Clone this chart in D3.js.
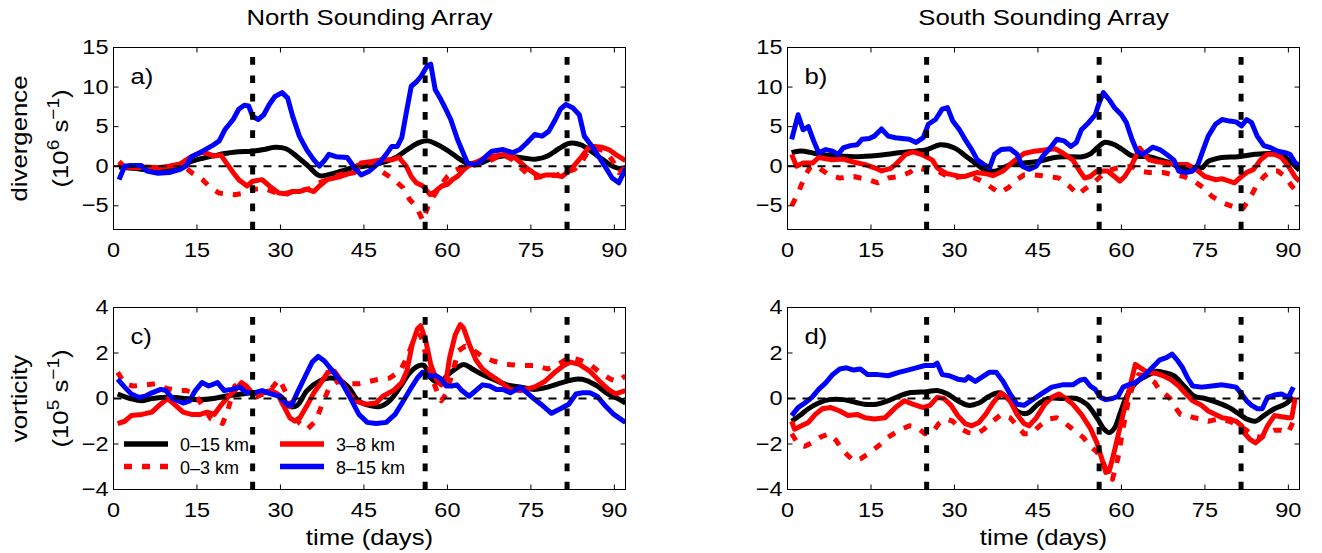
<!DOCTYPE html>
<html><head><meta charset="utf-8">
<script src="https://cdn.jsdelivr.net/npm/d3@7"></script>
<style>body{margin:0;background:#fff}svg{display:block}</style>
</head><body><svg id="c" width="1322" height="553"></svg>
<script>
const xTicks=[0,15,30,45,60,75,90];
const divTicks=[-5,0,5,10,15];
const vortTicks=[-4,-2,0,2,4];
const eventDays=[25,56,81.5];
const columnTitles=["North Sounding Array","South Sounding Array"];
const panelLabels=["a)","b)","c)","d)"];
const legendLabels=["0\u201315 km","0\u20133 km","3\u20138 km","8\u201315 km"];

// ---- divergence, North (10^6 s^-1) ----
const divNorth_0_15=[[1,-0.1],[4,-0.3],[7,-0.5],[10,-0.4],[12,-0.1],[14,0.6],[16,1.0],[18,1.3],[20,1.6],[22,1.8],[25,1.9],[27,2.1],[29,2.4],[31,2.2],[33,1.2],[35,0],[37,-1.2],[39,-1.0],[41,-0.6],[43,-0.2],[45,0],[47,0.2],[49,0.6],[51,1.2],[53,2.2],[55,3.0],[56.5,3.2],[58,2.8],[60,2.0],[62,1.0],[64,0.2],[66,0.4],[68,1.0],[70,1.3],[72,1.2],[74,1.0],[76,0.9],[78,1.3],[80,2.2],[82,2.9],[84,2.7],[86,1.8],[88,0.8],[90,-0.1],[92,-0.4]];
const divNorth_0_3=[[1,0.6],[2,-0.1],[4,-0.2],[6,-0.1],[8,-0.2],[10,0],[12,0.2],[13,-0.2],[14,-0.8],[16,-1.7],[17.4,-2.7],[19,-3.4],[21.7,-3.6],[23.6,-3.4],[25.4,-2.9],[27,-2.8],[29,-3.3],[31,-3.4],[33,-3.1],[35,-2.9],[37,-2.1],[39.6,-1.3],[42,-0.8],[44.5,0.4],[47,0.2],[48,-0.6],[50,-1.5],[52,-2.7],[53.2,-4.2],[54.4,-5.1],[55.6,-6.9],[56.5,-5.1],[57.5,-3.8],[58.7,-2.5],[60,-1.3],[61.2,-0.6],[63,0],[65.5,0.2],[68,0.8],[69.8,1.5],[71.7,0.8],[73.5,-0.4],[75,-1.5],[77.3,-1.3],[79.7,-1.1],[81.2,-0.8],[82.8,-0.4],[84,0.4],[85.3,1.9],[86.5,2.3],[88.3,1.9],[89.6,0.8],[90.8,-0.8],[92,-0.2]];
const divNorth_3_8=[[1,0.4],[2,-0.1],[4,-0.2],[6,-0.1],[8,-0.2],[10,0],[12,0.3],[14,1.2],[16,1.8],[18,1.3],[19.3,1.4],[20.5,0.2],[21.5,-0.8],[22.5,-1.7],[24,-2.5],[25,-1.9],[26.7,-1.7],[28,-2.5],[29.7,-3.4],[31.3,-3.5],[32,-3.2],[33.4,-3.2],[34.7,-2.9],[36,-3.2],[37,-2.5],[38.4,-1.7],[39.6,-1.5],[40.8,-1.3],[42,-1.0],[43.3,-0.8],[44.5,0.4],[46.4,0.6],[48,0.8],[50,0.8],[51.3,1.1],[52.6,0],[53.5,-1.3],[54.4,-2.1],[55.6,-2.5],[56.9,-3.6],[57.8,-3.2],[59,-2.5],[60,-2.3],[60.9,-1.7],[61.8,-1.3],[63,-0.4],[64.3,0.3],[65.5,0.6],[66.8,1.1],[68.6,1.3],[70.5,1.5],[71.7,1.3],[72.9,0.6],[74.2,-0.2],[75.4,-0.8],[76.6,-1.3],[77.8,-1.1],[79,-1.1],[80.6,-1.3],[81.5,-0.8],[82.8,0.1],[84,1.1],[85.3,2.3],[86.5,2.5],[87.7,2.4],[89,2.1],[90.2,1.5],[92,0.7]];
const divNorth_8_15=[[1,-1.7],[2,0],[3,0.1],[5,0.1],[6,-0.6],[8,-0.9],[10,-0.8],[12,-0.4],[13,0],[14,1.2],[16,1.9],[18,2.7],[19,3.2],[20,4.6],[21.5,5.9],[22.5,7.2],[23.5,7.7],[24.3,7.6],[25,6.3],[26,5.9],[27,6.5],[28,7.8],[29,8.8],[30.3,9.3],[31.3,8.6],[32.2,6.3],[33.4,3.8],[34.7,2.1],[36,0.8],[37,0],[38,0.8],[38.7,1.5],[40,1.2],[42,1.1],[43.3,-0.2],[44.5,-1.1],[46,-0.6],[47,0],[48,0.6],[49,1.5],[50,2.5],[51,2.5],[51.8,3.6],[52.6,6.7],[53.5,10.1],[54.5,10.7],[55.3,11.4],[56.3,12.6],[57,12.9],[57.8,9.7],[58.7,8.6],[59.7,7.2],[60.6,5.9],[61.8,3.4],[62.7,1.9],[63.6,0.4],[65,0.2],[66,0.6],[67,1.3],[68,1.9],[70,2.1],[71.7,1.7],[73,2.1],[74.2,2.9],[75.7,4.0],[77,3.8],[78.2,4.4],[79.4,5.9],[80.3,7.2],[81.3,7.8],[82.5,7.4],[83.7,6.5],[84.6,3.8],[86,2.5],[87.1,1.3],[88.3,0],[89.6,-1.5],[90.8,-2.1],[92,-0.3]];

// ---- divergence, South ----
const divSouth_0_15=[[0.75,1.7],[1.9,1.9],[3,1.9],[5,1.6],[7,1.4],[9.4,1.3],[12,1.2],[15,1.3],[18,1.5],[20,1.7],[23,1.9],[25,2.1],[27.5,2.7],[30,2.3],[32,1.3],[33.5,0.5],[35.6,-0.5],[37.5,-0.6],[40,0.2],[42.5,0.4],[45,0.6],[48,1.1],[50,1.2],[53,1.2],[54.5,1.6],[55.6,2.3],[56.9,3.0],[58.5,2.8],[60,2.2],[62,1.3],[65,1.2],[67,0.8],[68.5,0.5],[70.6,-0.2],[73,-0.3],[74.5,-0.2],[75.6,0.6],[78,1.1],[81,1.2],[84,1.5],[87,1.6],[89,1.3],[90.5,0.5],[92,-0.5]];
const divSouth_0_3=[[0.75,-5.0],[1.9,-3.4],[3.1,-1.3],[4,-0.2],[5,0.1],[6.2,-0.5],[7.5,-1.1],[9.4,-1.5],[11.9,-1.3],[14.4,-1.7],[16.25,-2.1],[18.1,-1.5],[20,-1.3],[21.9,-0.8],[23.1,-0.2],[24.4,-0.4],[26.9,-0.6],[28.5,-1.2],[30.5,-1.4],[32.5,-1.2],[34.4,-1.7],[36.25,-2.5],[38.1,-3.4],[39.7,-2.7],[41.25,-1.7],[42.5,-1.1],[44.4,-1.1],[46.9,-1.3],[48.75,-1.5],[50.6,-2.5],[52.2,-3.6],[53.4,-2.9],[55,-2.1],[56.25,-1.3],[57.5,-0.6],[59.4,-0.2],[61.9,0],[63.1,-0.6],[65,-0.8],[67.5,-0.8],[69.4,-1.1],[71.25,-1.3],[73.1,-1.9],[74.7,-2.7],[76.25,-3.8],[78.1,-4.6],[80,-5.1],[80.9,-5.5],[81.9,-5.3],[83.1,-4.0],[84.1,-2.7],[85.6,-1.3],[86.9,-0.6],[88.1,-0.6],[89.4,-1.3],[90.6,-2.5],[92,-3.6]];
const divSouth_3_8=[[0.75,1.5],[1.6,0],[2.8,0.4],[4.5,0.4],[5.6,1.1],[8,0.8],[10,0.9],[12,0.5],[14,0.2],[16,-0.3],[16.9,-0.6],[18.5,-0.3],[19.4,0.2],[21.25,1.5],[22.5,1.8],[24,1.5],[26,0.8],[26.9,-0.2],[28.5,-0.9],[29.7,-1.1],[31,-1.3],[31.9,-1.3],[34,-0.8],[36,-1.0],[36.9,-1.2],[38.75,-0.6],[40.6,0.6],[42.5,1.6],[44.4,1.9],[46.9,2.1],[48.1,2.2],[49.4,1.7],[51.25,0.8],[52.5,-0.6],[53.4,-1.5],[54.4,-1.3],[55.6,-0.6],[57.5,-0.6],[58.75,-1.3],[59.7,-1.9],[60.6,-1.3],[61.6,-0.2],[62.5,1.1],[63.3,2.3],[64.1,1.5],[65,0.8],[66.3,0.6],[68.1,0.4],[70,0.2],[71.9,0.2],[73.4,-0.4],[75,-1.3],[76.9,-1.7],[78.1,-1.6],[79.4,-1.9],[80.3,-2.1],[81.25,-1.5],[82.5,-0.8],[83.75,-0.4],[85,0.8],[86.25,1.5],[87.5,1.5],[88.75,1.1],[90,0],[91.25,-1.4],[92,-1.9]];
const divSouth_8_15=[[0.75,3.4],[1.9,6.5],[2.8,4.6],[3.75,5.0],[4.7,3.2],[5.6,1.7],[6.9,2.1],[8.1,1.9],[9.1,1.5],[10,2.3],[11.3,2.6],[12.5,2.7],[13.4,3.4],[14.7,3.5],[15.6,3.8],[16.9,4.7],[18.1,3.8],[19.4,3.6],[20.6,3.5],[21.9,3.4],[23.1,3.0],[24.4,3.6],[25.3,5.3],[26.6,5.9],[27.8,7.2],[28.75,7.4],[29.7,5.7],[30.9,4.6],[31.9,3.4],[33.1,2.1],[34.1,0.8],[35.3,0.2],[36.3,-0.2],[37.2,1.5],[38.4,2.1],[40,2.2],[41.25,1.5],[42.2,0],[43.4,-0.4],[44.7,0],[45.9,1.3],[47.2,2.3],[48.4,3.4],[49.7,3.2],[50.9,2.5],[51.9,3.0],[52.8,4.6],[54.1,5.5],[55.3,6.5],[55.9,7.8],[56.75,9.3],[57.8,8.4],[58.75,7.4],[60,6.5],[60.9,5.5],[61.9,3.4],[62.8,1.9],[63.75,1.5],[64.7,1.9],[65.6,2.4],[66.9,2.1],[68.1,1.5],[69.4,0.8],[70.3,-0.6],[71.6,-0.8],[72.8,-0.6],[73.75,0.2],[74.7,2.1],[75.6,3.8],[76.9,5.3],[78.1,5.9],[79.4,5.7],[80.6,5.6],[81.6,5.1],[82.5,5.9],[83.4,5.5],[84.4,3.8],[85.6,2.6],[86.9,2.3],[88.1,1.9],[89.4,1.7],[90.3,1.5],[91.25,0.4],[92,0.1]];

// ---- vorticity, North (10^5 s^-1) ----
const vortNorth_0_15=[[0.75,0.2],[3,0],[5,-0.1],[7,0],[10,0.05],[13,0],[15,-0.05],[18,0],[20,0.1],[23,0.2],[25,0.25],[28,0.25],[30,0.1],[31.7,-0.35],[33,-0.3],[34.8,0.35],[37.3,0.8],[38.8,0.9],[40.3,0.85],[42.2,0.5],[44,-0.1],[45.9,-0.3],[47.8,-0.35],[49.6,-0.1],[51.5,0.5],[53.3,1.15],[54.9,1.45],[55.8,1.45],[57,0.9],[58.6,0.7],[60.1,1.05],[61.7,1.35],[62.9,1.5],[64.5,1.3],[66.3,1.05],[68.2,0.85],[70.7,0.6],[73.1,0.5],[75.6,0.4],[78,0.5],[80.6,0.7],[83.1,0.85],[84.9,0.8],[86.9,0.55],[88.8,0.2],[90.6,0],[92,-0.2]];
const vortNorth_0_3=[[0.75,1.15],[2,0.65],[3.5,0.55],[5.7,0.6],[7.5,0.65],[9.4,0.45],[11.3,0.35],[13.1,0.35],[14.7,0.2],[15.9,-0.3],[17.5,-0.9],[18.7,-1.0],[19.6,-1.1],[20.5,-0.55],[21.8,0.55],[23,0.75],[24.2,0.25],[25.5,0.05],[27.3,0.25],[28.6,0.5],[29.8,0.85],[31.1,0.2],[32.3,-0.7],[33.5,-1.1],[34.8,-1.35],[36.3,-1.0],[37.5,-0.25],[38.8,0.5],[40.3,0.75],[42.2,0.65],[44.1,0.65],[45.9,0.75],[47.8,0.85],[49.6,0.9],[51.5,1.2],[52.7,1.8],[54,2.6],[55.2,2.8],[56.4,1.65],[57.3,0.85],[58.3,0.2],[58.9,-0.1],[59.8,0.2],[60.8,1.05],[62,2.1],[63.2,2.3],[64.5,2.15],[66.3,1.85],[68.2,1.65],[70.7,1.5],[73.1,1.45],[75.6,1.45],[78,1.3],[79.9,1.5],[81.8,1.8],[83.7,1.7],[85.6,1.5],[87.4,1.15],[89.3,0.85],[90.6,0.75],[92,1.0]];
const vortNorth_3_8=[[0.75,-1.1],[2,-1.0],[3.2,-0.75],[5.1,-0.7],[6.9,-0.6],[8.2,-0.3],[9.7,0],[10.9,-0.25],[12.5,-0.6],[14,-0.7],[15.6,-0.7],[16.8,-0.6],[18.1,-0.7],[19.3,-0.3],[20.5,0.05],[21.8,0.35],[23,0.7],[23.9,0.55],[24.9,0.25],[26.7,0.25],[28.3,0.35],[29.5,0.2],[30.4,-0.25],[31.7,-0.85],[32.6,-1.0],[33.5,-0.85],[34.8,-0.3],[36,0.25],[37.3,0.7],[38.5,1.15],[39.7,1.2],[41,0.75],[42.2,0.25],[43.4,-0.1],[45.3,-0.25],[47.2,-0.2],[48.4,0.1],[50.3,0.35],[51.8,0.7],[52.7,1.2],[53.7,2.4],[54.6,3.05],[55.2,3.2],[56.1,2.55],[57,1.5],[58,0.85],[58.9,0.6],[59.8,0.85],[60.4,1.8],[61.4,2.8],[62.3,3.25],[62.9,3.1],[63.9,2.4],[65.1,1.7],[66.3,1.3],[67.6,1.05],[69.4,0.75],[71.3,0.4],[73.1,0.35],[75.6,0.5],[77.5,0.75],[79.3,1.15],[80.9,1.45],[82.1,1.6],[83.7,1.5],[85.6,1.2],[87.4,0.75],[88.9,0.4],[90.2,0.2],[92,0.35]];
const vortNorth_8_15=[[0.75,0.85],[2,0.5],[3.2,0.2],[4.5,0.05],[5.7,0.1],[6.9,0.25],[8.5,0.4],[9.4,0.35],[10.6,0],[12.5,-0.2],[13.7,-0.1],[14.7,0.35],[15.9,0.7],[17.1,0.55],[18.7,0.7],[19.9,0.35],[21.2,0.4],[22.7,0.5],[23.9,0.25],[25.2,0.25],[26.7,0.35],[28.3,0.2],[29.8,0.1],[31.1,-0.25],[32,-0.3],[33.2,0.35],[34.5,1.0],[35.7,1.6],[36.8,1.85],[37.9,1.65],[39.4,1.2],[41,0.7],[42.5,0.05],[44.1,-0.7],[45.6,-1.05],[47.2,-1.1],[49,-1.05],[50.6,-0.7],[52.1,-0.1],[53.3,0.4],[54.6,0.9],[55.5,1.15],[56.7,1.0],[58,1.0],[58.9,0.85],[59.8,0.55],[60.8,0.55],[61.7,0.6],[62.6,0.35],[63.9,0.1],[65.1,0.35],[66.3,0.6],[67.6,0.55],[68.8,0.4],[70,0.4],[71.3,0.25],[73.1,0.5],[75,0.1],[76.8,-0.25],[78.7,-0.65],[80.3,-0.45],[81.8,-0.25],[83.1,0.2],[84.3,0.25],[85.6,0.25],[86.9,0.1],[88.1,-0.25],[89.9,-0.7],[92,-1.05]];

// ---- vorticity, South ----
const vortSouth_0_15=[[0.75,-1.0],[2.2,-0.75],[3.75,-0.45],[5.6,-0.2],[7.5,-0.05],[10,-0.05],[13.75,-0.25],[16,-0.25],[18,-0.1],[20,0.1],[21.9,0.25],[25,0.3],[26.9,0.35],[28.75,0.2],[30.6,-0.1],[32.5,-0.3],[34.4,-0.2],[36.25,0.1],[38.1,0.25],[40,-0.1],[41.25,-0.55],[43.1,-0.65],[45,-0.25],[46.9,0],[49.4,0],[51.9,0],[53.75,-0.25],[55.6,-0.85],[56.9,-1.35],[57.8,-1.5],[58.75,-1.3],[59.7,-0.7],[60.6,-0.1],[61.9,0.5],[63.4,0.85],[65,1.05],[66.25,1.2],[67.5,1.15],[69.4,1.0],[71.25,0.55],[73.1,0.1],[75,0],[77.5,-0.2],[79.4,-0.4],[81.25,-0.7],[82.5,-0.9],[84.1,-1.0],[85.6,-0.75],[87.5,-0.45],[89.4,-0.25],[90.9,0.05]];
const vortSouth_0_3=[[0.75,-1.55],[1.9,-2.0],[3.1,-2.1],[4.4,-1.95],[5.9,-1.7],[7.5,-1.55],[8.75,-1.85],[10,-2.3],[11.9,-2.75],[13.1,-2.65],[14.4,-2.45],[16.25,-2.1],[18.1,-1.7],[20,-1.4],[21.9,-1.2],[23.1,-1.25],[24.7,-1.55],[26,-1.5],[27.2,-1.1],[28.4,-0.9],[29.7,-1.0],[30.9,-1.3],[32.5,-1.5],[34.1,-1.55],[35.3,-1.35],[36.9,-1.0],[38.4,-0.7],[40,-0.85],[41.25,-1.2],[42.5,-1.55],[43.75,-1.55],[45.3,-1.2],[46.9,-0.9],[48.4,-0.85],[49.7,-1.05],[51.25,-1.35],[53.1,-1.7],[54.4,-2.1],[55.6,-2.35],[56.6,-2.75],[57.5,-3.25],[58.4,-3.55],[59.4,-2.6],[60.3,-1.3],[61.25,-0.1],[62.2,0.7],[63.1,1.05],[64.1,1.0],[65,0.9],[66,0.7],[66.9,0.35],[67.8,0.2],[68.75,0],[69.7,-0.4],[70.6,-0.7],[71.9,-0.75],[73.1,-0.85],[74.4,-0.9],[75.6,-1.0],[77.5,-0.9],[79.4,-1.0],[81.25,-1.2],[82.5,-1.4],[83.75,-1.65],[85,-1.7],[86.25,-1.55],[87.5,-1.4],[88.75,-1.4],[90,-1.5],[90.9,-1.0]];
const vortSouth_3_8=[[0.75,-1.0],[1.25,-1.35],[2.5,-1.2],[3.75,-1.05],[5,-0.7],[6.25,-0.45],[7.8,-0.4],[9.4,-0.55],[10.9,-0.75],[12.5,-0.7],[14,-0.85],[15.6,-0.9],[17.5,-0.85],[19.4,-0.4],[21,-0.1],[22.5,-0.25],[24.4,-0.4],[25.6,-0.3],[26.9,0.05],[28.1,0],[29.4,-0.3],[30.6,-0.75],[31.9,-1.1],[33.1,-1.2],[34.4,-1.05],[35.6,-0.7],[36.9,-0.2],[38.4,0.25],[40,-0.1],[41.25,-0.7],[42.5,-1.1],[43.4,-1.2],[44.7,-0.85],[46.25,-0.25],[47.5,0.05],[48.75,0.2],[50,0],[51.25,-0.25],[52.8,-0.7],[54.4,-1.3],[55.6,-1.95],[56.6,-2.75],[57.2,-3.25],[57.8,-3.2],[58.75,-2.3],[60,-1.0],[60.9,-0.1],[61.9,0.9],[62.5,1.5],[63.4,1.35],[64.7,1.15],[66.25,1.1],[67.5,1.0],[68.75,0.85],[70.3,0.55],[71.6,0.2],[72.8,-0.1],[74.4,-0.3],[75.6,-0.55],[76.9,-0.7],[78.1,-0.85],[79.4,-0.9],[80.6,-1.0],[81.6,-1.2],[82.2,-1.55],[83.1,-1.8],[84.1,-1.95],[85.3,-1.7],[86.25,-1.2],[87.5,-0.75],[88.75,-0.8],[90,-0.85],[90.6,-0.85],[91.25,0.05]];
const vortSouth_8_15=[[0.75,-0.75],[1.9,-0.4],[3.1,-0.2],[4.4,0.05],[5.6,0.4],[6.9,0.7],[8.1,1.05],[9.4,1.3],[10.6,1.35],[11.9,1.25],[13.1,1.3],[14.4,1.05],[16.25,1.05],[18.1,1.0],[20,1.15],[21.6,1.25],[23.1,1.35],[24.7,1.45],[26.25,1.45],[26.9,1.55],[27.8,1.05],[29.1,1.0],[30.6,0.85],[31.9,0.8],[32.5,0.95],[33.75,0.75],[35,0.95],[36.25,1.15],[37.5,1.15],[38.75,0.75],[40,0.2],[41.25,-0.25],[42.5,-0.3],[43.75,-0.1],[45.6,0.2],[47.5,0.5],[49.4,0.6],[51.25,0.6],[52.5,0.8],[53.4,0.85],[54.4,0.55],[55.3,0.4],[56.25,0.05],[57.2,-0.05],[58.4,0],[59.4,0.1],[60.3,0.5],[61.25,0.6],[62.5,0.7],[63.4,0.85],[64.7,1.15],[65.9,1.45],[66.9,1.7],[68.1,1.8],[69.1,1.95],[70,1.7],[71,1.35],[71.9,0.9],[72.8,0.55],[74.4,0.5],[76.25,0.55],[78.1,0.6],[79.4,0.55],[80.6,0.5],[81.6,0.2],[82.5,-0.1],[83.4,-0.3],[84.4,-0.45],[85.3,-0.45],[86.25,0.05],[87.5,0.15],[88.75,0.2],[90,0.05],[90.9,0.5]];

const SX=1.12;
const FONT='"Liberation Sans", Arial, Helvetica, sans-serif';
const svg=d3.select('#c');
svg.append('rect').attr('width',1322).attr('height',553).attr('fill','#fff');

const styles=[
  {color:'#000000',dash:null},
  {color:'#ff0000',dash:'8,10'},
  {color:'#ff0000',dash:null},
  {color:'#0000ff',dash:null}
];

const panels=[
  {l:113.5,r:625.5,t:47.5,b:229.5,yDom:[-8,15],yTicks:divTicks,series:[divNorth_0_15,divNorth_0_3,divNorth_3_8,divNorth_8_15]},
  {l:787.5,r:1299.5,t:47.5,b:229.5,yDom:[-8,15],yTicks:divTicks,series:[divSouth_0_15,divSouth_0_3,divSouth_3_8,divSouth_8_15]},
  {l:113.5,r:625.5,t:307.5,b:489.5,yDom:[-4,4],yTicks:vortTicks,series:[vortNorth_0_15,vortNorth_0_3,vortNorth_3_8,vortNorth_8_15]},
  {l:787.5,r:1299.5,t:307.5,b:489.5,yDom:[-4,4],yTicks:vortTicks,series:[vortSouth_0_15,vortSouth_0_3,vortSouth_3_8,vortSouth_8_15]}
];

function label(parent,x,y,str,size,anchor,rot,sx){
  const g=parent.append('g').attr('transform',`translate(${x},${y})`+(rot?` rotate(${rot})`:''));
  return g.append('text').attr('transform',`scale(${sx||SX},1)`).attr('text-anchor',anchor||'start')
    .attr('font-family',FONT).attr('font-size',size).attr('fill','#000').text(str);
}

function styleAxis(g){
  g.select('.domain').remove();
  g.attr('font-family',FONT).attr('font-size',21);
  g.selectAll('.tick line').attr('stroke','#000').attr('stroke-width',1);
  g.selectAll('.tick text').attr('fill','#000').attr('transform',`scale(${SX},1)`);
}

panels.forEach((p,i)=>{
  const x=d3.scaleLinear().domain([0,92]).range([p.l,p.r]);
  const y=d3.scaleLinear().domain(p.yDom).range([p.b,p.t]);
  const cid='clip'+i;
  svg.append('clipPath').attr('id',cid).append('rect')
    .attr('x',p.l).attr('y',p.t).attr('width',p.r-p.l).attr('height',p.b-p.t);
  const pg=svg.append('g').attr('clip-path',`url(#${cid})`);

  p.series.forEach((s,k)=>{
    const st=styles[k];
    const ln=d3.line().x(d=>x(d[0])).y(d=>y(d[1]))
      .curve(k===0?d3.curveCatmullRom.alpha(0.5):d3.curveLinear);
    pg.append('path').datum(s).attr('d',ln).attr('fill','none')
      .attr('stroke',st.color).attr('stroke-width',5)
      .attr('stroke-linejoin','round')
      .attr('stroke-dasharray',st.dash);
  });

  // zero line
  pg.append('line').attr('x1',x(0)).attr('x2',x(92)).attr('y1',y(0)).attr('y2',y(0))
    .attr('stroke','#000').attr('stroke-width',2).attr('stroke-dasharray','8,7');
  // event lines (drawn from the bottom upward)
  eventDays.forEach(d=>{
    pg.append('line').attr('x1',x(d)).attr('x2',x(d)).attr('y1',y(p.yDom[0])).attr('y2',y(p.yDom[1]))
      .attr('stroke','#000').attr('stroke-width',5).attr('stroke-dasharray','7.7,10.6');
  });

  // axes
  svg.append('g').attr('transform',`translate(0,${p.b})`)
    .call(d3.axisBottom(x).tickValues(xTicks).tickSizeInner(-5).tickSizeOuter(0).tickPadding(13).offset(0))
    .call(styleAxis);
  svg.append('g').attr('transform',`translate(0,${p.t})`)
    .call(d3.axisTop(x).tickValues(xTicks).tickSizeInner(-5).tickSizeOuter(0).tickFormat('').offset(0))
    .call(styleAxis);
  svg.append('g').attr('transform',`translate(${p.l},0)`)
    .call(d3.axisLeft(y).tickValues(p.yTicks).tickSizeInner(-5).tickSizeOuter(0).tickPadding(4.5).offset(0))
    .call(styleAxis);
  svg.append('g').attr('transform',`translate(${p.r},0)`)
    .call(d3.axisRight(y).tickValues(p.yTicks).tickSizeInner(-5).tickSizeOuter(0).tickFormat('').offset(0))
    .call(styleAxis);
  svg.append('rect').attr('x',p.l).attr('y',p.t).attr('width',p.r-p.l).attr('height',p.b-p.t)
    .attr('fill','none').attr('stroke','#000').attr('stroke-width',1);

  label(svg,p.l+17,p.t+36,panelLabels[i],23,'start');
  if(i<2) label(svg,(p.l+p.r)/2,25,columnTitles[i],23,'middle');
  if(i>=2) label(svg,(p.l+p.r)/2,545,'time (days)',23,'middle');
});

// y labels
function yLabel(cy,name,exp){
  label(svg,27,cy,name,23,'middle',-90);
  const t=label(svg,68,cy,'',23,'middle',-90);
  t.append('tspan').text('(10');
  t.append('tspan').attr('font-size',17).attr('dy',-9).text(exp);
  t.append('tspan').attr('dy',9).text(' s');
  t.append('tspan').attr('font-size',17).attr('dy',-9).text('\u22121');
  t.append('tspan').attr('dy',9).text(')');
}
yLabel((panels[0].t+panels[0].b)/2,'divergence','6');
yLabel((panels[2].t+panels[2].b)/2,'vorticity','5');

// legend in panel c
const pc=panels[2];
const legendPos=[[0,0],[0,1],[1,0],[1,1]];
legendLabels.forEach((lab,k)=>{
  const cx=pc.l+(legendPos[k][0]===0?10.5:166.5);
  const cy=pc.t+136.5+legendPos[k][1]*22.5;
  svg.append('line').attr('x1',cx).attr('x2',cx+44).attr('y1',cy).attr('y2',cy)
    .attr('stroke',styles[k].color).attr('stroke-width',5.5).attr('stroke-dasharray',styles[k].dash);
  label(svg,cx+56,cy+7,lab,18,'start',0,1.0);
});
</script>
</body></html>
